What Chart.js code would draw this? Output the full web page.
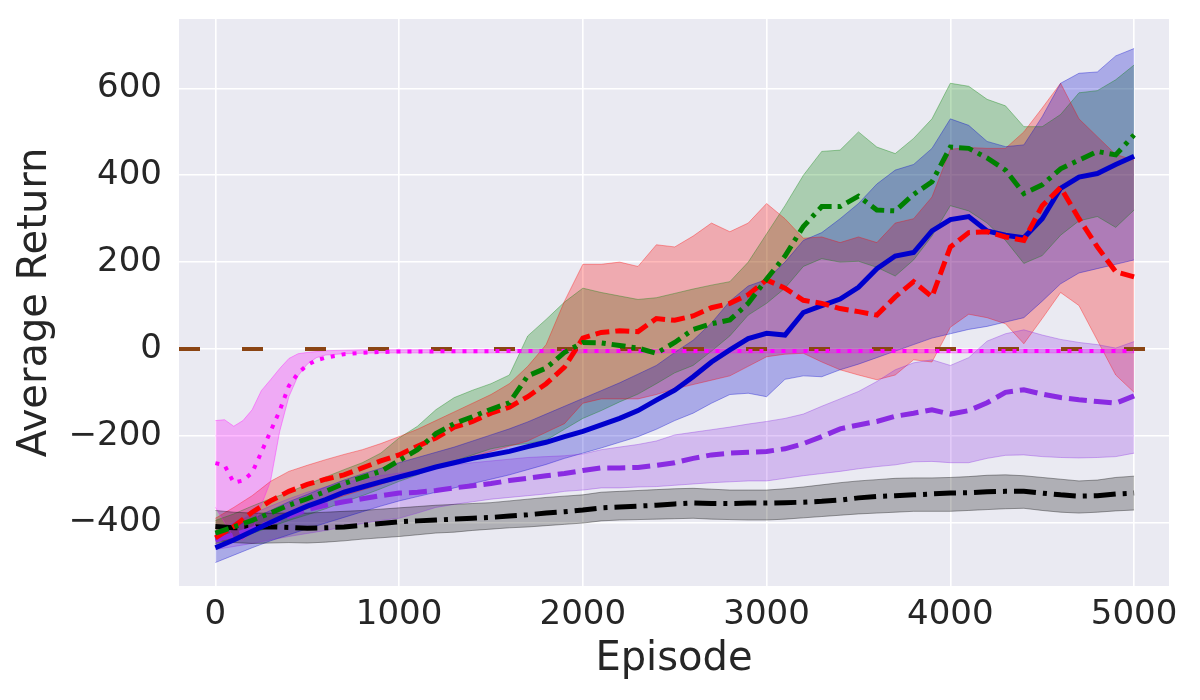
<!DOCTYPE html>
<html>
<head>
<meta charset="utf-8">
<script src="https://cdn.jsdelivr.net/npm/chart.js@4.4.1/dist/chart.umd.min.js"></script>
<style>
html, body { margin: 0; padding: 0; background: #fff; }
</style>
</head>
<body>
<canvas id="chart" width="1200" height="700"></canvas>
<script>
// episodes (x) shared by most curves
const episodes = [0, 100, 200, 300, 400, 500, 600, 700, 800, 900, 1000, 1100, 1200, 1300, 1400, 1500, 1600, 1700, 1800, 1900,
  2000, 2100, 2200, 2300, 2400, 2500, 2600, 2700, 2800, 2900, 3000, 3100, 3200, 3300, 3400, 3500, 3600, 3700, 3800, 3900,
  4000, 4100, 4200, 4300, 4400, 4500, 4600, 4700, 4800, 4900, 5000];
// the magenta curve moves fast early on, so it is sampled finer there
const magentaEpisodes = [0, 50, 100, 150, 200, 250, 300, 350, 400, 450, 500, 550, 600, 700, 800, 900, 1000, 1500, 2000, 2500, 3000, 3500, 4000, 4500, 5000];

const xTicks = [0, 1000, 2000, 3000, 4000, 5000];
const yTicks = [-400, -200, 0, 200, 400, 600];
const xLimits = [-198, 5190];
const yLimits = [-546, 760];
const baseline = 0;

// blue, solid
const blueMean = [-458, -440, -420, -400, -380, -362, -347, -330, -318, -306, -295, -284, -272, -262, -252, -244, -236, -225, -215, -202,
  -190, -175, -160, -142, -118, -95, -64, -30, -2, 24, 36, 32, 84, 100, 115, 142, 185, 214, 222, 272,
  298, 305, 272, 262, 256, 300, 370, 396, 404, 425, 444];
const blueHigh = [-425, -410, -392, -372, -352, -335, -318, -302, -288, -275, -262, -250, -238, -226, -212, -198, -184, -168, -150, -132,
  -114, -96, -78, -58, -38, -8, 20, 60, 110, 145, 160, 200, 250, 268, 300, 335, 380, 412, 425, 462,
  530, 515, 478, 466, 470, 535, 612, 635, 638, 675, 692];
const blueLow = [-492, -475, -458, -442, -428, -414, -401, -388, -375, -362, -350, -340, -330, -320, -310, -300, -290, -278, -266, -252,
  -240, -228, -215, -202, -185, -165, -148, -125, -105, -102, -110, -70, -62, -64, -48, -35, -20, -5, 10, 25,
  35, 45, 52, 62, 72, 110, 150, 175, 185, 195, 205];

// red, dashed
const redMean = [-435, -409, -376, -350, -328, -312, -300, -290, -274, -258, -244, -224, -205, -180, -167, -148, -134, -110, -80, -42,
  25, 38, 42, 40, 70, 66, 76, 95, 105, 125, 159, 140, 112, 105, 93, 86, 78, 120, 155, 120,
  235, 268, 270, 258, 250, 330, 372, 300, 235, 178, 166];
const redHigh = [-390, -365, -338, -305, -282, -268, -255, -243, -232, -218, -202, -185, -165, -145, -125, -105, -80, -40, 10, 110,
  195, 195, 200, 190, 240, 235, 260, 290, 270, 290, 335, 300, 255, 258, 245, 258, 245, 290, 300, 350,
  460, 464, 462, 462, 500, 555, 612, 530, 489, 448, 435];
const redLow = [-458, -440, -420, -402, -385, -368, -352, -338, -325, -312, -298, -285, -272, -260, -248, -236, -224, -212, -192, -172,
  -125, -115, -115, -115, -105, -92, -82, -72, -62, -40, -18, -12, -10, -30, -48, -60, -71, -60, -25, -30,
  50, 80, 72, 58, 12, 70, 130, 100, 20, -60, -100];

// green, dash-dot
const greenMean = [-424, -410, -395, -378, -360, -345, -328, -310, -296, -282, -257, -232, -195, -172, -156, -139, -124, -62, -44, -8,
  15, 14, 8, 2, -10, 15, 45, 58, 67, 105, 161, 214, 282, 328, 328, 352, 320, 318, 356, 385,
  465, 462, 440, 412, 358, 378, 415, 435, 455, 447, 493];
const greenHigh = [-395, -380, -362, -345, -330, -312, -295, -278, -262, -240, -205, -178, -140, -112, -95, -80, -60, 30, 68, 108,
  140, 130, 122, 114, 118, 128, 138, 147, 155, 200, 265, 330, 400, 455, 458, 500, 465, 450, 485, 530,
  612, 605, 575, 560, 512, 512, 540, 590, 595, 620, 654];
const greenLow = [-448, -438, -425, -410, -395, -382, -368, -352, -338, -322, -305, -290, -272, -258, -244, -230, -222, -218, -210, -185,
  -160, -142, -122, -104, -80, -55, -38, -5, 30, 78, 105, 140, 190, 208, 200, 202, 188, 168, 205, 260,
  330, 318, 290, 250, 197, 215, 262, 295, 305, 280, 320];

// violet, dashed
const violetMean = [-440, -428, -415, -400, -385, -370, -360, -352, -345, -338, -332, -330, -326, -320, -315, -310, -303, -298, -292, -287,
  -280, -274, -274, -273, -268, -262, -252, -244, -240, -238, -236, -230, -218, -202, -184, -175, -167, -155, -148, -140,
  -150, -142, -124, -100, -94, -104, -112, -117, -121, -125, -108];
const violetHigh = [-420, -400, -380, -362, -345, -330, -318, -308, -300, -292, -286, -280, -272, -267, -262, -258, -254, -250, -248, -246,
  -242, -232, -226, -220, -212, -198, -192, -186, -180, -173, -167, -160, -150, -132, -115, -98, -75, -48, -32, -25,
  -38, -20, 18, 35, 44, 32, 22, 15, 10, 2, 17];
const violetLow = [-462, -455, -448, -440, -432, -425, -418, -410, -402, -395, -390, -378, -365, -358, -352, -346, -342, -338, -334, -328,
  -325, -320, -320, -318, -317, -314, -311, -308, -306, -304, -304, -298, -292, -287, -282, -276, -271, -267, -260, -259,
  -262, -262, -252, -245, -244, -248, -250, -251, -250, -248, -240];

// black, dash-dot
const blackMean = [-409, -412, -410, -410, -411, -413, -412, -410, -406, -402, -398, -396, -394, -392, -390, -388, -385, -382, -378, -375,
  -371, -366, -364, -362, -360, -357, -355, -356, -356, -355, -355, -354, -353, -351, -348, -343, -340, -338, -336, -334,
  -332, -331, -329, -328, -328, -332, -336, -339, -338, -334, -332];
const blackHigh = [-372, -376, -378, -378, -378, -378, -376, -374, -372, -369, -366, -363, -360, -358, -356, -354, -350, -346, -342, -339,
  -336, -330, -328, -326, -324, -322, -321, -323, -325, -325, -325, -322, -318, -313, -308, -304, -301, -298, -297, -297,
  -296, -294, -291, -290, -292, -296, -300, -304, -302, -296, -293];
const blackLow = [-440, -446, -448, -447, -446, -447, -445, -442, -438, -435, -432, -428, -424, -422, -418, -415, -412, -410, -407, -404,
  -401, -396, -394, -393, -392, -391, -390, -392, -393, -394, -394, -392, -389, -386, -383, -380, -378, -376, -374, -374,
  -374, -372, -370, -368, -367, -372, -376, -378, -376, -373, -371];

// magenta, dotted
const magentaMean = [-263, -268, -308, -303, -285, -238, -190, -142, -85, -56, -37, -26, -20, -12, -9, -7, -6, -5, -5, -5, -5, -5, -5, -5, -5];
const magentaHigh = [-165, -163, -178, -165, -140, -96, -71, -45, -22, -11, -8, -6, -4, -3, -2, -2, -2, -1, -1, -1, -1, -1, -1, -1, -1];
const magentaLow = [-365, -400, -435, -440, -420, -360, -305, -190, -110, -62, -35, -20, -14, -11, -10, -9, -9, -9, -9, -9, -9, -9, -9, -9, -9];

const textColor = '#262626';
Chart.defaults.font.family = '"DejaVu Sans", sans-serif';
Chart.defaults.color = textColor;

function pts(xs, ys) {
  return xs.map((x, i) => ({ x: x, y: ys[i] }));
}

const datasets = [];

// a shaded band: lower edge first, then the upper edge filled down to it
function addBand(xs, low, high, rgb, alpha) {
  const fillColor = 'rgba(' + rgb + ',' + alpha + ')';
  const edgeColor = 'rgba(' + rgb + ',0.35)';
  const lowIndex = datasets.length;
  datasets.push({ data: pts(xs, low), borderColor: edgeColor, borderWidth: 1, fill: false, order: 20 });
  datasets.push({ data: pts(xs, high), borderColor: edgeColor, borderWidth: 1, backgroundColor: fillColor,
    fill: { target: lowIndex }, order: 20 });
}

function addLine(xs, ys, color, dash, width, order) {
  datasets.push({ data: pts(xs, ys), borderColor: color, borderWidth: width, borderDash: dash,
    borderCapStyle: 'butt', fill: false, order: order });
}

addBand(episodes, blackLow, blackHigh, '0,0,0', 0.25);
addBand(episodes, violetLow, violetHigh, '138,43,226', 0.25);
addBand(magentaEpisodes, magentaLow, magentaHigh, '255,0,255', 0.27);
addBand(episodes, blueLow, blueHigh, '0,0,205', 0.27);
addBand(episodes, redLow, redHigh, '255,0,0', 0.27);
addBand(episodes, greenLow, greenHigh, '0,128,0', 0.27);

addLine(xLimits, [baseline, baseline], '#8B4513', [21, 42], 4, 9);
addLine(episodes, blackMean, '#000000', [22, 7, 4, 7], 5, 8);
addLine(episodes, violetMean, '#8A2BE2', [18, 7], 5, 7);
addLine(magentaEpisodes, magentaMean, '#FF00FF', [4, 7], 4, 6);
addLine(episodes, blueMean, '#0000CD', [], 5, 5);
addLine(episodes, redMean, '#FF0000', [14, 6], 5, 4);
addLine(episodes, greenMean, '#008000', [14, 6, 4, 6], 5, 3);

const plotBackground = {
  id: 'plotBackground',
  beforeDraw(chart) {
    const { ctx, chartArea } = chart;
    ctx.save();
    ctx.fillStyle = '#EAEAF2';
    ctx.fillRect(chartArea.left, chartArea.top, chartArea.right - chartArea.left, chartArea.bottom - chartArea.top);
    ctx.restore();
  }
};

function fmt(v) {
  return v < 0 ? '\u2212' + Math.abs(v) : String(v);
}

new Chart(document.getElementById('chart'), {
  type: 'line',
  data: { datasets: datasets },
  options: {
    responsive: false,
    animation: false,
    layout: { padding: { top: 19, right: 31, left: 0, bottom: 0 } },
    elements: { point: { radius: 0 }, line: { tension: 0 } },
    plugins: {
      legend: { display: false },
      tooltip: { enabled: false },
      filler: { drawTime: 'beforeDatasetsDraw' }
    },
    scales: {
      x: {
        type: 'linear',
        min: xLimits[0],
        max: xLimits[1],
        afterBuildTicks: s => { s.ticks = xTicks.map(v => ({ value: v })); },
        afterFit: s => { s.height = 114; s.paddingLeft = 0; s.paddingRight = 0; },
        grid: { color: '#ffffff', lineWidth: 1.6, drawTicks: false },
        border: { display: false },
        ticks: { padding: 9, font: { size: 34 }, color: textColor, maxRotation: 0, autoSkip: false, callback: v => fmt(v) },
        title: { display: true, text: 'Episode', font: { size: 40 }, color: textColor, padding: { top: 0, bottom: 16 } }
      },
      y: {
        type: 'linear',
        min: yLimits[0],
        max: yLimits[1],
        afterBuildTicks: s => { s.ticks = yTicks.map(v => ({ value: v })); },
        afterFit: s => { s.width = 179; s.paddingTop = 0; s.paddingBottom = 0; },
        grid: { color: '#ffffff', lineWidth: 1.6, drawTicks: false },
        border: { display: false },
        ticks: { padding: 17, font: { size: 34 }, color: textColor, autoSkip: false, callback: v => fmt(v) },
        title: { display: true, text: 'Average Return', font: { size: 40 }, color: textColor, padding: { top: 12, bottom: 0 } }
      }
    }
  },
  plugins: [plotBackground]
});
</script>
</body>
</html>
